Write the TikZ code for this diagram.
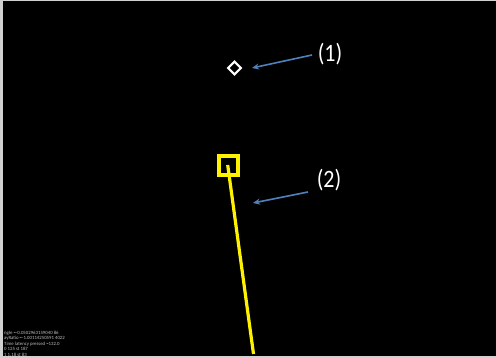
\documentclass[tikz,border=0pt]{standalone}
\usepackage{fontspec}
\setmainfont{Carlito}
\usetikzlibrary{arrows.meta}
\definecolor{arrowblue}{HTML}{4F81BD}
\definecolor{edgegray}{HTML}{D0D0D0}
\tikzset{
  px/.style={x=1pt,y=-1pt},
  callout/.style={draw=arrowblue,line width=1.6pt,-{Stealth[length=7pt,width=6pt]}},
  lbl/.style={text=white,font=\fontsize{25}{27}\selectfont,inner sep=0pt,xscale=0.88},
  tiny/.style={text=white!75!black,font=\fontsize{4.8}{5.6}\selectfont,inner sep=0pt,anchor=north west,align=left},
  yel/.style={draw=yellow,line width=3.2pt}
}
\begin{document}
\begin{tikzpicture}[px]
\useasboundingbox (0,0) rectangle (496,358);
\fill[edgegray] (0,0) rectangle (496,358);
\fill[black] (3,1) rectangle (496,356);
% diamond marker
\node (d1) [draw=white,line width=2.2pt,minimum size=9pt,inner sep=0pt,rotate=45] at (234.5,68) {};
% yellow square and line
\node (sq) [yel,minimum size=19pt,inner sep=0pt] at (228.5,165.5) {};
\coordinate (lineTop) at (227.7,165);
\coordinate (lineBot) at (253.5,354);
\draw[yel] (lineTop) -- (lineBot);
% labels
\node (l1) [lbl] at (330,54) {(1)};
\node (l2) [lbl] at (329,180) {(2)};
\coordinate (a1s) at (312,55);
\coordinate (a1e) at (252,68);
\coordinate (a2s) at (308,192);
\coordinate (a2e) at (253,203);
\draw[callout] (a1s) -- (a1e);
\draw[callout] (a2s) -- (a2e);
% tiny status text
\node (info) [tiny] at (4,330.5) {ngle =-0.0502963159040 86\\ayRatio =-1.00114250591 4022\\Time latency pressed =132.0\\0 125 st 187\\1 1.18 st 83};
\end{tikzpicture}
\end{document}
